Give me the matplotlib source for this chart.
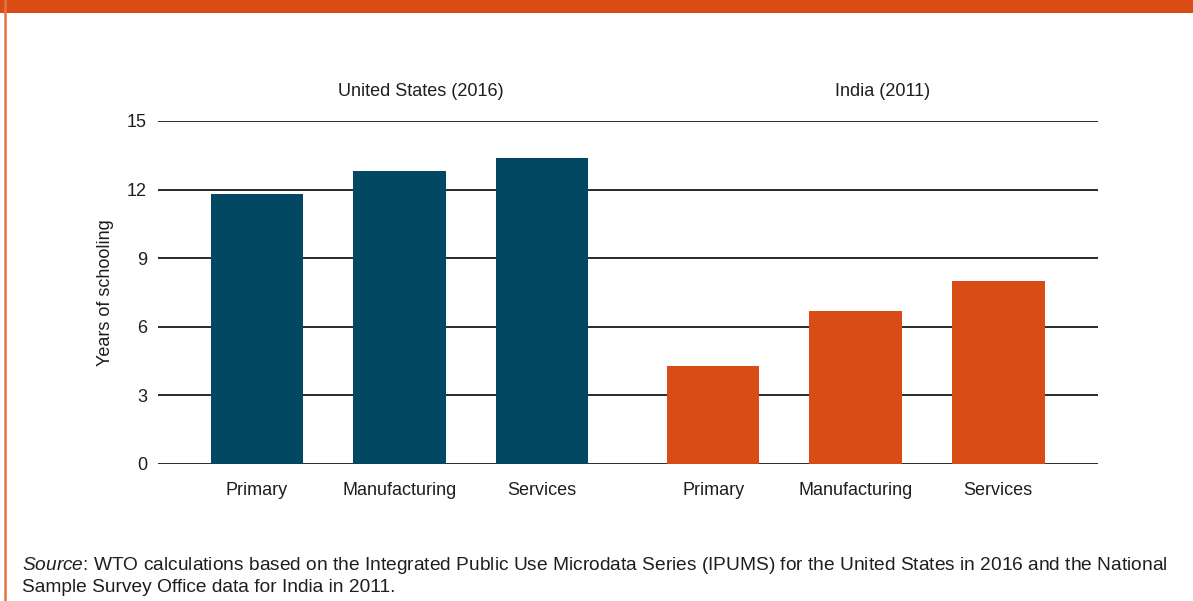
import matplotlib
matplotlib.use("Agg")
import matplotlib.pyplot as plt
from matplotlib.patches import Rectangle
from matplotlib.lines import Line2D

plt.rcParams["font.family"] = ["Liberation Sans", "DejaVu Sans"]
plt.rcParams["mathtext.fontset"] = "custom"
plt.rcParams["mathtext.it"] = "Liberation Sans:italic"
plt.rcParams["mathtext.rm"] = "Liberation Sans"

NAVY = "#024862"
ORANGE = "#D94C16"
BORDER = "#E8733E"
TEXT = "#1e1e1e"

sectors = ["Primary", "Manufacturing", "Services"]
us_years = [11.8, 12.8, 13.4]
india_years = [4.3, 6.7, 8.0]
us_pos = [0, 1, 2]
india_pos = [3.2, 4.2, 5.2]
y_ticks = [0, 3, 6, 9, 12, 15]

W, H = 1193, 601
fig = plt.figure(figsize=(W / 100, H / 100), dpi=100)

# frame: orange band on top, thin rule on the left
fig.add_artist(Rectangle((0, 1 - 13 / H), 1, 13 / H, transform=fig.transFigure,
                         fc=ORANGE, ec="none"))
fig.add_artist(Line2D([5.5 / W, 5.5 / W], [0, 1], transform=fig.transFigure,
                      color=BORDER, lw=1.8))

ax = fig.add_axes([158 / W, 1 - 464 / H, (1098 - 158) / W, (464 - 121) / H])
ax.bar(us_pos, us_years, width=0.65, color=NAVY, zorder=3)
ax.bar(india_pos, india_years, width=0.65, color=ORANGE, zorder=3)

ax.set_xlim(-0.695, 5.9)
ax.set_ylim(0, 15)
ax.set_yticks(y_ticks)
ax.set_xticks(us_pos + india_pos)
ax.set_xticklabels(sectors + sectors)
ax.tick_params(axis="both", length=0, labelsize=13, colors=TEXT)
ax.tick_params(axis="x", pad=13)
ax.tick_params(axis="y", pad=8)
for s in ax.spines.values():
    s.set_visible(False)
ax.grid(axis="y", color="#2a2a2a", lw=1.4, zorder=1)
ax.set_ylabel("Years of schooling", fontsize=13, color=TEXT, labelpad=9)

fig.text(421 / W, 1 - 91 / H, "United States (2016)", ha="center", va="center",
         fontsize=13, color=TEXT)
fig.text(883 / W, 1 - 91 / H, "India (2011)", ha="center", va="center",
         fontsize=13, color=TEXT)

fig.text(22 / W, 1 - 566 / H,
         r"$\it{Source}$: WTO calculations based on the Integrated Public Use Microdata Series "
         "(IPUMS) for the United States in 2016 and the National",
         ha="left", va="center", fontsize=13.8, color=TEXT)
fig.text(22 / W, 1 - 587 / H, "Sample Survey Office data for India in 2011.",
         ha="left", va="center", fontsize=13.8, color=TEXT)

fig.savefig("out.png", dpi=100)
